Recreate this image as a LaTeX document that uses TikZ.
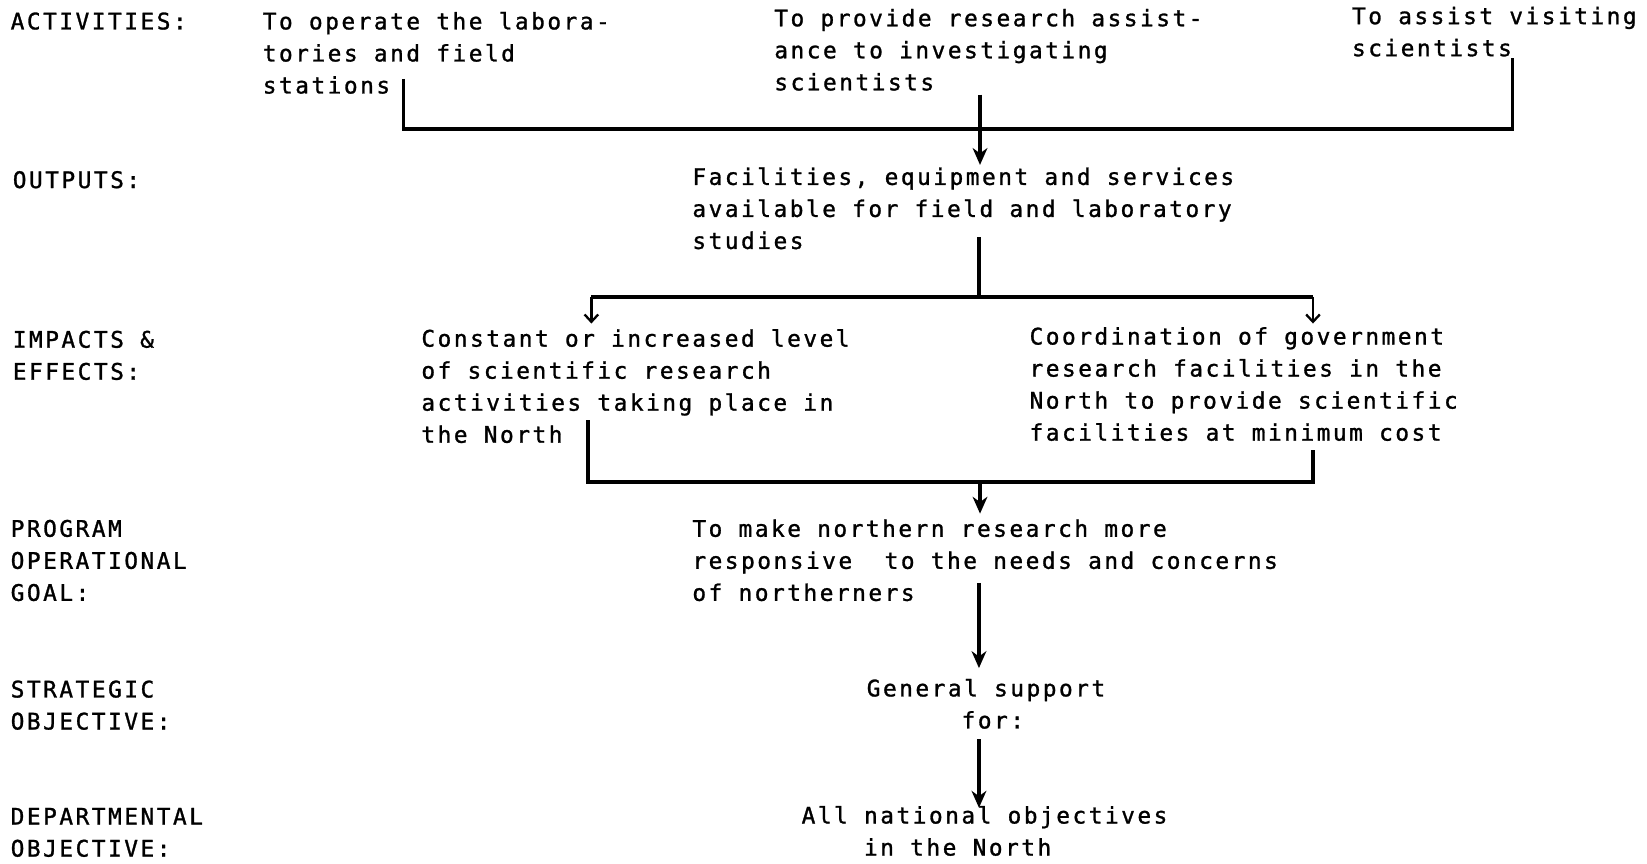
\documentclass[tikz,border=0pt]{standalone}
\usepackage{fontspec}
\setmonofont[LetterSpace=11,FakeBold=1.2]{DejaVu Sans Mono}
\usetikzlibrary{arrows.meta}

% multi-line nodes sit on the baseline of their last line
\tikzstyle{rowname}= [anchor=base west,inner sep=0pt,align=left,font=\ttfamily\fontsize{21.7}{30.5}\selectfont]
\tikzstyle{entry}= [rowname]
\tikzstyle{link}= [black,line width=3.4pt]
\tikzstyle{linkarrow}= [link,-{Stealth[length=16pt,width=14pt,inset=5pt]}]
\tikzstyle{linkbarb}= [black,line width=2.2pt,-{Straight Barb[length=7pt,width=13pt]}]

\begin{document}
\begin{tikzpicture}[x=1pt,y=-1pt]
		\useasboundingbox (0,0) rectangle (1568,822);

		% row names on the left
		\node (n1) at (10,28) [rowname] {ACTIVITIES:};
		\node (n2) at (12,179) [rowname] {OUTPUTS:};
		\node (n3) at (12,361.5) [rowname] {IMPACTS \&\\EFFECTS:};
		\node (n4) at (10,572) [rowname] {PROGRAM\\OPERATIONAL\\GOAL:};
		\node (n5) at (10,694.5) [rowname] {STRATEGIC\\OBJECTIVE:};
		\node (n6) at (10,815.5) [rowname] {DEPARTMENTAL\\OBJECTIVE:};

		% activities
		\node (a1) at (250,89) [entry] {To operate the labora-\\tories and field\\stations};
		\node (a2) at (737,86) [entry] {To provide research assist-\\ance to investigating\\scientists};
		\node (a3) at (1287,53.5) [entry] {To assist visiting\\scientists};

		% outputs
		\node (o) at (659,237) [entry] {Facilities, equipment and services\\available for field and laboratory\\studies};

		% impacts and effects
		\node (i1) at (401,421.5) [entry] {Constant or increased level\\of scientific research\\activities taking place in\\the North};
		\node (i2) at (980,419.5) [entry] {Coordination of government\\research facilities in the\\North to provide scientific\\facilities at minimum cost};

		% goal and objectives
		\node (g) at (659,572) [entry] {To make northern research more\\responsive\ \ to the needs and concerns\\of northerners};
		\node (s) at (825,693.5) [entry] {General support\\\phantom{xxxxxx}for:};
		\node (d) at (763,814.5) [entry] {All national objectives\\\phantom{xxxx}in the North};

		% ends of the connectors
		\coordinate (c1) at (384,75);
		\coordinate (c2) at (933,90);
		\coordinate (c3) at (1440,55);
		\coordinate (j1) at (933,123);
		\coordinate (t1) at (933,157);

		\coordinate (c4) at (932,226);
		\coordinate (j2) at (932,283);
		\coordinate (t2) at (563,308);
		\coordinate (t3) at (1250,308);

		\coordinate (c5) at (560,400);
		\coordinate (c6) at (1250,428);
		\coordinate (j3) at (933,459);
		\coordinate (t4) at (933,489);

		\coordinate (c7) at (932,555);
		\coordinate (t5) at (932,636);
		\coordinate (c8) at (932,704);
		\coordinate (t6) at (932,769);

		\draw[link] (c1) |- (j1) -| (c3);
		\draw[linkarrow] (c2) -- (t1);

		\draw[link] (c4) -- (j2);
		\draw[link] (t2 |- j2) -- (t3 |- j2);
		\draw[linkbarb] (t2 |- j2) -- (t2);
		\draw[linkbarb] (t3 |- j2) -- (t3);

		\draw[link] (c5) |- (j3) -| (c6);
		\draw[linkarrow] (j3) -- (t4);

		\draw[linkarrow] (c7) -- (t5);
		\draw[linkarrow] (c8) -- (t6);

	\end{tikzpicture}
\end{document}
